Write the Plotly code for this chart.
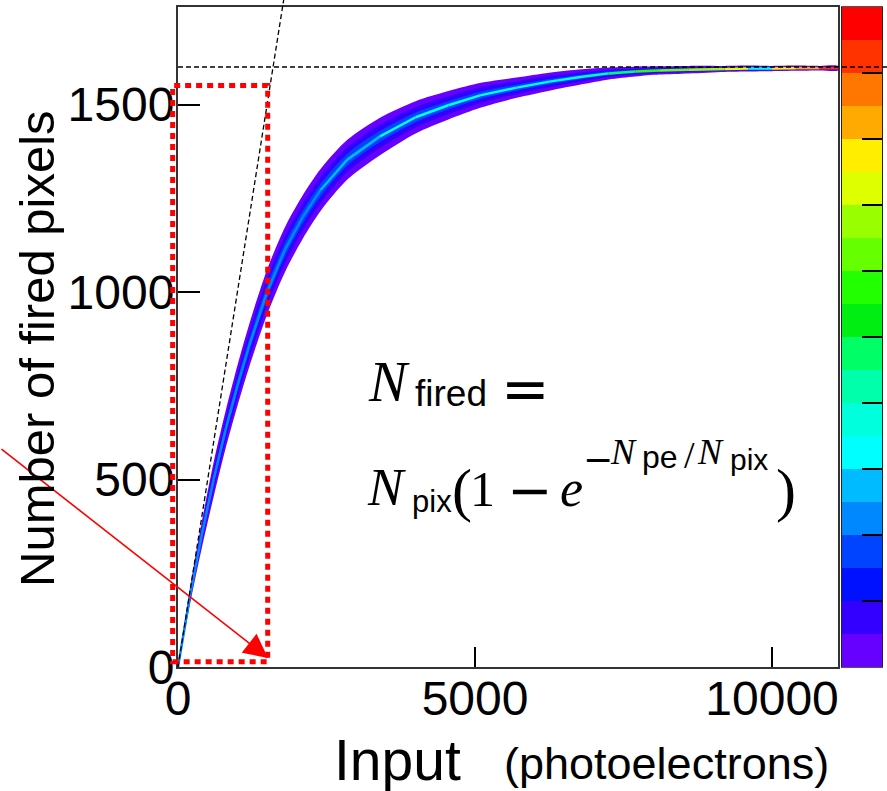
import plotly.graph_objects as go

# ---------------- data ----------------
x_pe = [0, 200, 400, 600, 800, 1000, 1200, 1500, 1800, 2100,
        2400, 2850, 3400, 4000, 4550, 5100, 5700, 6250, 6800, 7250,
        7700, 8100, 8600, 9200, 9600, 10000, 10400, 10800, 11110]
center = [0, 188, 352, 500, 632, 750, 858, 1000, 1113, 1200,
          1272, 1353, 1415, 1466, 1498, 1525, 1545, 1561, 1574, 1583,
          1588, 1591, 1593, 1595, 1596, 1596, 1597, 1597, 1597]
half_outer = [4, 22, 35, 46, 50, 54, 57, 60, 60, 58,
              56, 53, 50, 43, 38, 33, 27, 24, 20, 16,
              13, 11, 10, 8, 8, 7, 7, 6, 6]
half_inner = [2, 13, 21, 28, 31, 33, 35, 37, 37, 36,
              35, 33, 31, 27, 24, 21, 17, 15, 12, 10,
              8, 7, 6, 5, 5, 4, 4, 4, 4]
half_core = [1, 6, 10, 13, 15, 16, 17, 18, 18, 17,
             17, 16, 15, 13, 11, 10, 8, 7, 6, 5,
             4, 3, 3, 3, 3, 2, 2, 2, 2]
core_level = [5, 5, 5, 5, 5, 5, 5, 5, 5, 5,
              6, 6, 7, 7, 7, 7, 7, 8, 9, 10,
              12, 13, 14, 15, 8, 16, 17, 19, 20]

palette = ["#6600ff", "#3300ff", "#0011ff", "#0044ff", "#0088ff",
           "#00bbff", "#00ffff", "#00ffdd", "#00ffaa", "#00ff66",
           "#00ee11", "#22ff00", "#66ff00", "#99ff00", "#ddff00",
           "#ffee00", "#ffaa00", "#ff7700", "#ff3300", "#ff0000"]
palette_levels = list(range(1, 21))
palette_ticks = [2.5, 4.5, 6.5, 8.5, 10.5, 12.5, 14.5, 16.5, 18.5]

x_ticks = [0, 5000, 10000]
x_ticktext = ["0", "5000", "10000"]
y_ticks = [0, 500, 1000, 1500]
y_ticktext = ["0", "500", "1000", "1500"]

n_pix = 1600                     # saturation level (dashed line)
linear_slope = 1.0               # N_fired = N_pe (dashed line)
box_x = [-90, 1510]              # red dotted box
box_y = [14, 1551]
arrow_tip = (1515, 24)

# ---------------- layout geometry ----------------
W, H = 887, 791
ML, MR, MT, MB = 178, 0, 7, 124
PW, PH = W - ML - MR, H - MT - MB
X_RANGE = [0, 11110]
Y_RANGE = [0, 1760]
main_dom = [0, 660 / PW]
cb_dom = [664 / PW, 704 / PW]

def dx(v):
    return main_dom[0] + (v - X_RANGE[0]) / (X_RANGE[1] - X_RANGE[0]) * (main_dom[1] - main_dom[0])

def dy(v):
    return (v - Y_RANGE[0]) / (Y_RANGE[1] - Y_RANGE[0])

def qx(p):
    return (p - ML) / PW

def qy(p):
    return (H - MB - p) / PH

fig = go.Figure()

# band layers
for half, col in [(half_outer, palette[0]), (half_inner, palette[1]), (half_core, palette[3])]:
    up = [c + h for c, h in zip(center, half)]
    lo = [c - h for c, h in zip(center, half)]
    fig.add_trace(go.Scatter(x=x_pe + x_pe[::-1], y=up + lo[::-1], mode="lines",
                             fill="toself", fillcolor=col,
                             line=dict(width=0, color=col, shape="spline", smoothing=0.8),
                             hoverinfo="skip", showlegend=False))
for i in range(len(x_pe) - 1):
    fig.add_trace(go.Scatter(x=[x_pe[i], x_pe[i + 1]], y=[center[i], center[i + 1]],
                             mode="lines", line=dict(width=2.5, color=palette[core_level[i] - 1]),
                             hoverinfo="skip", showlegend=False))

# palette bar
cs = []
for k, c in enumerate(palette):
    cs.append([k / 20, c])
    cs.append([(k + 1) / 20, c])
fig.add_trace(go.Heatmap(x=[0], y=palette_levels, z=[[v] for v in palette_levels],
                         colorscale=cs, zmin=0.5, zmax=20.5, showscale=False,
                         xaxis="x2", yaxis="y2", hoverinfo="skip"))

tickfont = dict(family="Liberation Sans, Arial", size=48, color="black")
fig.update_layout(
    width=W, height=H, margin=dict(l=ML, r=MR, t=MT, b=MB),
    paper_bgcolor="white", plot_bgcolor="white", showlegend=False,
    xaxis=dict(domain=main_dom, range=X_RANGE, tickvals=x_ticks, ticktext=x_ticktext,
               ticks="inside", ticklen=20, tickwidth=1.5, tickcolor="black",
               showline=True, mirror=True, linecolor="#333", linewidth=2,
               showgrid=False, zeroline=False, tickfont=tickfont, anchor="y",
               ticklabelstandoff=-12),
    yaxis=dict(domain=[0, 1], range=Y_RANGE, tickvals=y_ticks, ticktext=y_ticktext,
               ticks="inside", ticklen=22, tickwidth=1.5, tickcolor="black",
               showline=True, mirror=True, linecolor="#333", linewidth=2,
               showgrid=False, zeroline=False, tickfont=tickfont, anchor="x",
               ticklabelstandoff=-8),
    xaxis2=dict(domain=cb_dom, range=[-0.5, 0.5], showticklabels=False, ticks="",
                showline=True, mirror=True, linecolor="#555", linewidth=1,
                showgrid=False, zeroline=False, anchor="y2"),
    yaxis2=dict(domain=[0, 1], range=[0.5, 20.5], side="right", tickvals=palette_ticks,
                ticks="inside", ticklen=20, tickwidth=1.5, tickcolor="black",
                showticklabels=False, showline=True, mirror=True, linecolor="#222",
                linewidth=1, showgrid=False, zeroline=False, anchor="x2"),
)

shapes = []
shapes.append(dict(type="line", xref="paper", yref="paper", x0=dx(0), x1=1.0,
                   y0=dy(n_pix), y1=dy(n_pix),
                   line=dict(color="black", width=1.3, dash="5px,3px")))
y_top = qy(0) * (Y_RANGE[1] - Y_RANGE[0]) + Y_RANGE[0]
shapes.append(dict(type="line", xref="paper", yref="paper", x0=dx(0), y0=dy(0),
                   x1=dx(y_top / linear_slope), y1=dy(y_top),
                   line=dict(color="black", width=1.3, dash="5px,3px")))
shapes.append(dict(type="rect", xref="paper", yref="paper", x0=dx(box_x[0]), x1=dx(box_x[1]),
                   y0=dy(box_y[0]), y1=dy(box_y[1]),
                   line=dict(color="#ff0000", width=5, dash="6px,5px")))
fig.update_layout(shapes=shapes)

ann = []
ann.append(dict(x=dx(arrow_tip[0]), y=dy(arrow_tip[1]), xref="paper", yref="paper", text="",
                showarrow=True, ax=-268, ay=-210, arrowhead=2, arrowsize=3.0,
                arrowwidth=1.6, arrowcolor="#ff0000"))
ann.append(dict(x=qx(37), y=qy(349), xref="paper", yref="paper", text="Number of fired pixels",
                textangle=-90, showarrow=False, xanchor="center", yanchor="middle",
                font=dict(family="Liberation Sans, Arial", size=49, color="black")))
ann.append(dict(x=qx(333), y=qy(760), xref="paper", yref="paper", text="Input",
                showarrow=False, xanchor="left", yanchor="middle", borderpad=0,
                font=dict(family="Liberation Sans, Arial", size=57, color="black")))
ann.append(dict(x=qx(503), y=qy(763), xref="paper", yref="paper", text="(photoelectrons)",
                showarrow=False, xanchor="left", yanchor="middle", borderpad=0,
                font=dict(family="Liberation Sans, Arial", size=45, color="black")))

SERIF = "Liberation Serif, Times New Roman"
SANS = "Liberation Sans, Arial"
DJ = "DejaVu Sans"
pieces = [
    ("<i>N</i>", 367, 381, 57, SERIF),
    ("fired", 414, 393, 37, SANS),
    ("=", 500, 389, 58, DJ),
    ("<i>N</i>", 366, 487, 53, SERIF),
    ("pix", 411, 501, 31, SANS),
    ("(", 451, 490, 60, SERIF),
    ("1", 469, 489, 50, SERIF),
    ("\u2212", 506, 490, 54, DJ),
    ("<i>e</i>", 559, 488, 52, SERIF),
    ("\u2212", 582, 460, 36, DJ),
    ("<i>N</i>", 609, 452, 36, SERIF),
    ("pe", 641, 457, 32, SANS),
    ("/", 683, 455, 38, SERIF),
    ("<i>N</i>", 696, 452, 36, SERIF),
    ("pix", 729, 459, 30, SANS),
    (")", 775, 490, 60, SERIF),
]
for t, x, y, s, f in pieces:
    ann.append(dict(x=qx(x), y=qy(y), xref="paper", yref="paper", text=t, showarrow=False,
                    xanchor="left", yanchor="middle", borderpad=0,
                    font=dict(family=f, size=s, color="black")))
fig.update_layout(annotations=ann)

fig.write_html("out.html", config={"displayModeBar": False},
               post_script="document.body.style.margin='0';")
